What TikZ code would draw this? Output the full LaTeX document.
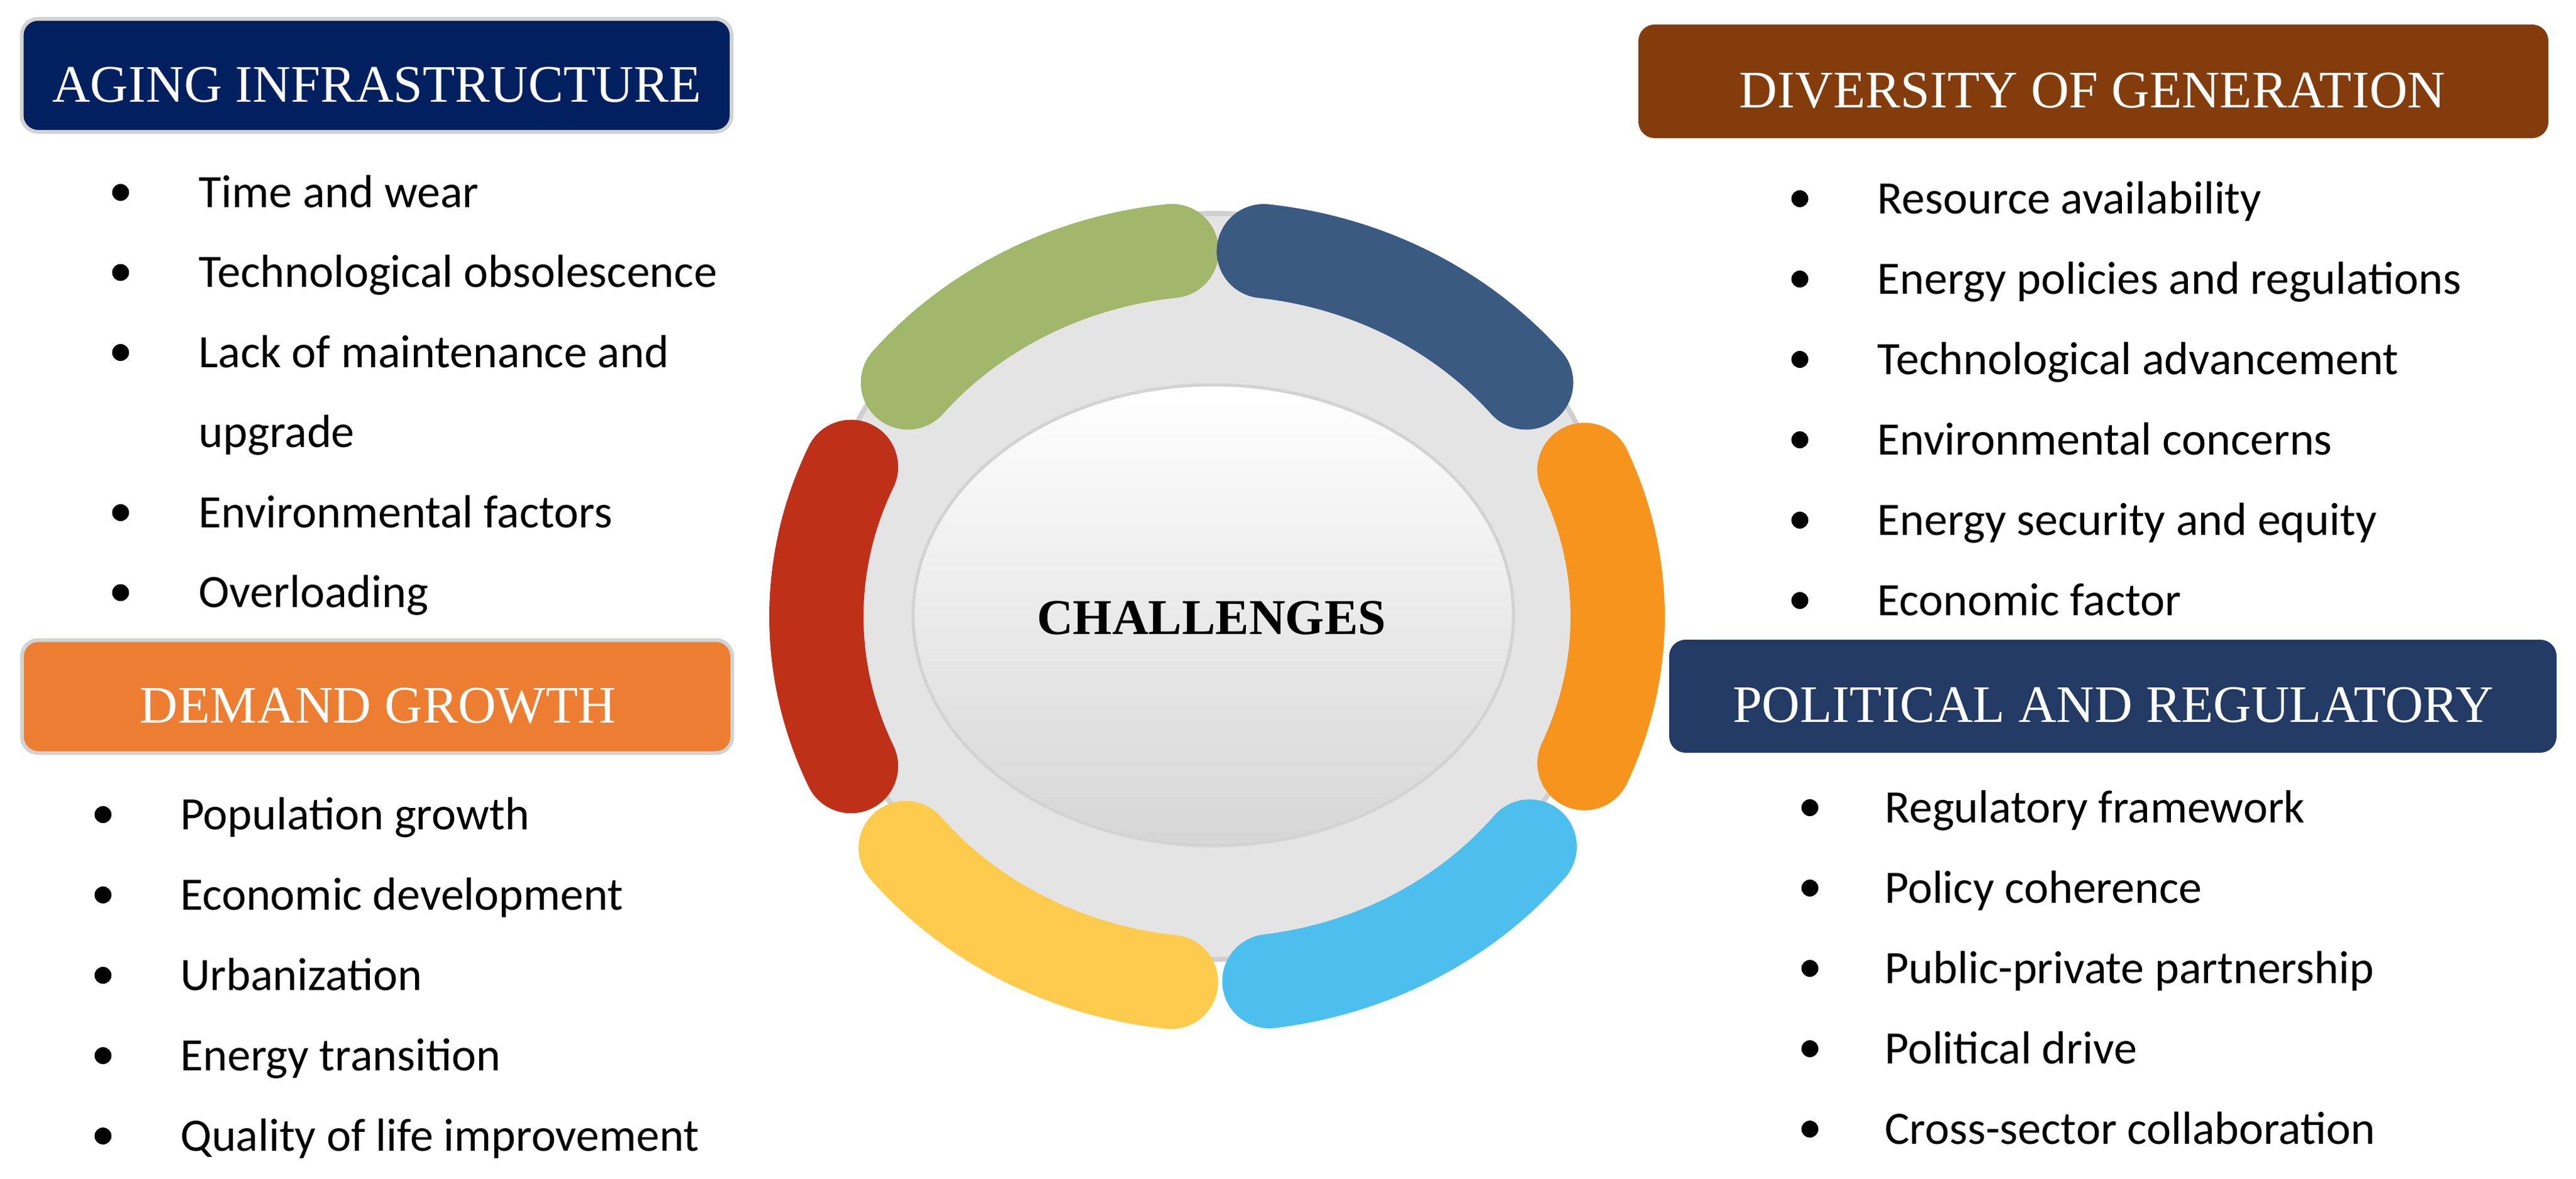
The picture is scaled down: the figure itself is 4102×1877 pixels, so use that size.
\documentclass[tikz,border=0pt]{standalone}
\usepackage{fontspec}
\setmainfont{Liberation Serif}
\newfontfamily\bodyfont{Carlito}
\usetikzlibrary{shapes.geometric}
\definecolor{cAging}{HTML}{022060}
\definecolor{cDiv}{HTML}{843C0C}
\definecolor{cDem}{HTML}{ED7D31}
\definecolor{cPol}{HTML}{223A64}
\definecolor{cBorder}{HTML}{D3D3D3}
\definecolor{cDisc}{HTML}{E4E4E4}
\definecolor{cDiscLine}{HTML}{D0D0D0}
\definecolor{cGreen}{HTML}{A2B76A}
\definecolor{cBlue}{HTML}{3A5A82}
\definecolor{cOrange}{HTML}{F7941E}
\definecolor{cCyan}{HTML}{4DBFEE}
\definecolor{cYellow}{HTML}{FECB4D}
\definecolor{cRed}{HTML}{BF3019}
\tikzset{
  hbox/.style={rectangle, rounded corners=26pt, inner sep=0pt, outer sep=0pt},
  htext/.style={anchor=base, inner sep=0pt, text=white, font=\fontsize{84}{100}\selectfont},
  btext/.style={anchor=base west, inner sep=0pt, font=\bodyfont\fontsize{74}{90}\selectfont},
  bdot/.style={circle, fill=black, minimum size=27pt, inner sep=0pt},
  seg/.style={line width=150pt, line cap=round},
}
\begin{document}
\begin{tikzpicture}[x=1pt,y=1pt]
\useasboundingbox (0,0) rectangle (4102,-1877);
% ---- central graphic ----
\node[ellipse, draw=cDiscLine, fill=cDisc, line width=8pt, minimum width=1274pt, minimum height=1188pt, inner sep=0pt] (disc) at (1937,-934) {};
\node[ellipse, draw=cBorder, line width=5pt, top color=white, bottom color=black!16, minimum width=956pt, minimum height=734pt, inner sep=0pt] (core) at (1932,-980) {};
\coordinate (rc) at (1938,-982);
\draw[seg, draw=cGreen]  (rc) ++(96.5:638pt and 586pt)  arc[start angle=96.5,  end angle=140.5,  x radius=638pt, y radius=586pt];
\draw[seg, draw=cBlue]   (rc) ++(39.5:638pt and 586pt)  arc[start angle=39.5,  end angle=83.3,   x radius=638pt, y radius=586pt];
\draw[seg, draw=cOrange] (rc) ++(-23.5:638pt and 586pt) arc[start angle=-23.5, end angle=23.5,   x radius=638pt, y radius=586pt];
\draw[seg, draw=cCyan]   (rc) ++(-82.5:638pt and 586pt) arc[start angle=-82.5, end angle=-38.7,  x radius=638pt, y radius=586pt];
\draw[seg, draw=cYellow] (rc) ++(-141:638pt and 586pt)  arc[start angle=-141,  end angle=-96.6,  x radius=638pt, y radius=586pt];
\draw[seg, draw=cRed]    (rc) ++(156:638pt and 586pt)   arc[start angle=156,   end angle=204,    x radius=638pt, y radius=586pt];
\node[anchor=base, inner sep=0pt, font=\bfseries\fontsize{80}{96}\selectfont] (chal) at (1929,-1010) {CHALLENGES};
% ---- heading boxes ----
\node[hbox, fill=cAging, draw=cBorder, line width=6pt, minimum width=1130.5pt, minimum height=180pt] (agingbox) at (599.75,-120) {};
\node[htext] (agingtitle) at (600,-162) {AGING INFRASTRUCTURE};
\node[hbox, fill=cDiv, minimum width=1449pt, minimum height=181pt] (divbox) at (3333.5,-129.5) {};
\node[htext] (divtitle) at (3332,-171) {DIVERSITY OF GENERATION};
\node[hbox, fill=cDem, draw=cBorder, line width=6pt, minimum width=1131pt, minimum height=180pt] (dembox) at (600.5,-1109.5) {};
\node[htext] (demtitle) at (602,-1151) {DEMAND GROWTH};
\node[hbox, fill=cPol, minimum width=1413pt, minimum height=180pt] (polbox) at (3364.5,-1109) {};
\node[htext] (poltitle) at (3365,-1150) {POLITICAL AND REGULATORY};
% ---- aging list ----
\node[bdot] (a1d) at (192,-306.5) {};
\node[btext] (a1) at (316.5,-330) {Time and wear};
\node[bdot] (a2d) at (192,-434) {};
\node[btext] (a2) at (316.5,-457.5) {Technological obsolescence};
\node[bdot] (a3d) at (192,-561.5) {};
\node[btext] (a3) at (316.5,-585) {Lack of maintenance and};
\node[btext] (a3b) at (316.5,-712.5) {upgrade};
\node[bdot] (a4d) at (192,-816.5) {};
\node[btext] (a4) at (316.5,-840) {Environmental factors};
\node[bdot] (a5d) at (192,-944) {};
\node[btext] (a5) at (316.5,-967.5) {Overloading};
% ---- diversity list ----
\node[bdot] (d1d) at (2866,-316.5) {};
\node[btext] (d1) at (2989.5,-340) {Resource availability};
\node[bdot] (d2d) at (2866,-444.5) {};
\node[btext] (d2) at (2989.5,-468) {Energy policies and regulations};
\node[bdot] (d3d) at (2866,-572.5) {};
\node[btext] (d3) at (2989.5,-596) {Technological advancement};
\node[bdot] (d4d) at (2866,-700.5) {};
\node[btext] (d4) at (2989.5,-724) {Environmental concerns};
\node[bdot] (d5d) at (2866,-828.5) {};
\node[btext] (d5) at (2989.5,-852) {Energy security and equity};
\node[bdot] (d6d) at (2866,-956.5) {};
\node[btext] (d6) at (2989.5,-980) {Economic factor};
% ---- demand list ----
\node[bdot] (g1d) at (164,-1297.5) {};
\node[btext] (g1) at (287,-1321) {Population growth};
\node[bdot] (g2d) at (164,-1425.5) {};
\node[btext] (g2) at (287,-1449) {Economic development};
\node[bdot] (g3d) at (164,-1553.5) {};
\node[btext] (g3) at (287,-1577) {Urbanization};
\node[bdot] (g4d) at (164,-1681.5) {};
\node[btext] (g4) at (287,-1705) {Energy transition};
\node[bdot] (g5d) at (164,-1809.5) {};
\node[btext] (g5) at (287,-1833) {Quality of life improvement};
% ---- political list ----
\node[bdot] (p1d) at (2882,-1286.5) {};
\node[btext] (p1) at (3001,-1310) {Regulatory framework};
\node[bdot] (p2d) at (2882,-1414.5) {};
\node[btext] (p2) at (3001,-1438) {Policy coherence};
\node[bdot] (p3d) at (2882,-1542.5) {};
\node[btext] (p3) at (3001,-1566) {Public-private partnership};
\node[bdot] (p4d) at (2882,-1670.5) {};
\node[btext] (p4) at (3001,-1694) {Political drive};
\node[bdot] (p5d) at (2882,-1798.5) {};
\node[btext] (p5) at (3001,-1822) {Cross-sector collaboration};
\end{tikzpicture}
\end{document}
